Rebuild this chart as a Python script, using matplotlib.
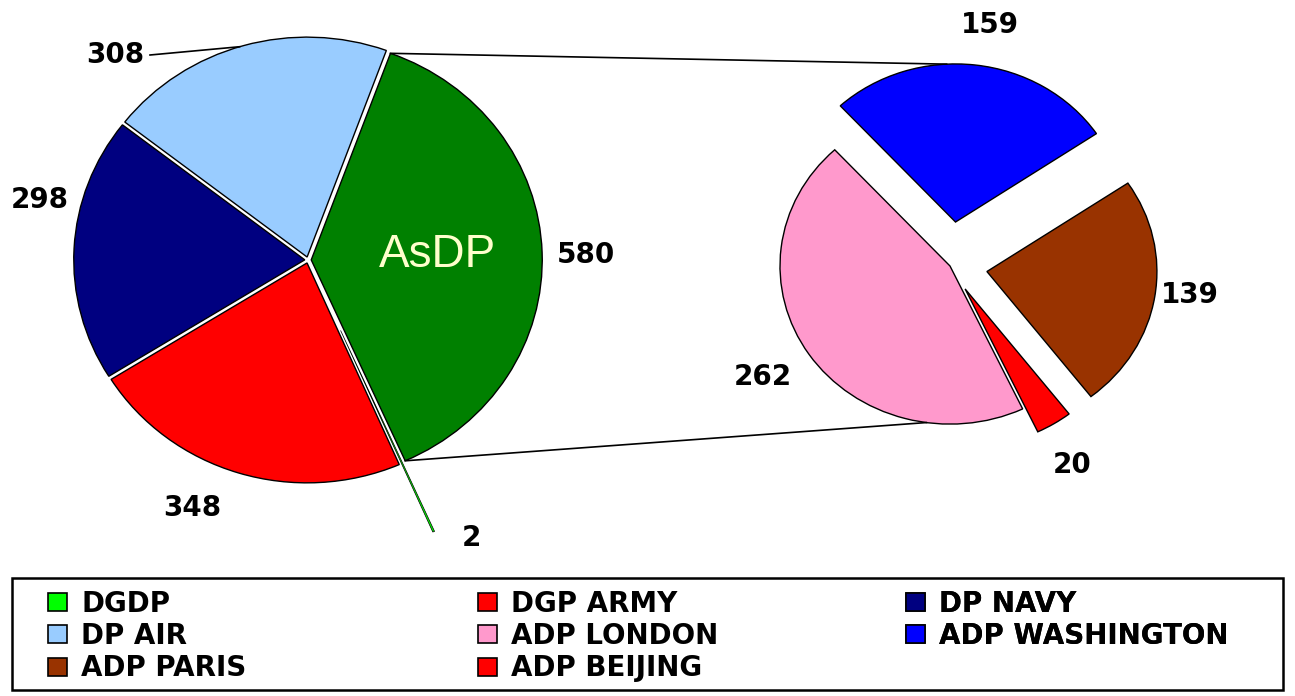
import numpy as np
import matplotlib.pyplot as plt
from matplotlib.patches import Patch, Rectangle
from matplotlib.transforms import Affine2D

# left pie (counter-clockwise from the AsDP slice)
left_names = ['AsDP', 'DP AIR', 'DP NAVY', 'DGP ARMY', 'DGDP']
left_values = [580, 308, 298, 348, 2]
left_colors = ['#008000', '#99ccff', '#000080', '#ff0000', '#00ff00']

# right pie = breakdown of AsDP
right_names = ['ADP WASHINGTON', 'ADP LONDON', 'ADP BEIJING', 'ADP PARIS']
right_values = [159, 262, 20, 139]
right_colors = ['#0000ff', '#ff99cc', '#ff0000', '#993300']

legend_cols = [['DGDP', 'DP AIR', 'ADP PARIS'],
               ['DGP ARMY', 'ADP LONDON', 'ADP BEIJING'],
               ['DP NAVY', 'ADP WASHINGTON']]

H = 696
fig = plt.figure(figsize=(12.95, 6.96), dpi=100)
ax = fig.add_axes([0, 0, 1, 1])

L_C, R_L, L_K = (308, H - 260), 231, 0.952   # centre, radius, vertical squash
R_C, R_R, R_K = (950, H - 266), 170, 0.93

lw, _ = ax.pie(left_values, colors=left_colors, startangle=-66, counterclock=True,
               center=L_C, radius=R_L,
               explode=[e * R_L for e in [0.014, 0.014, 0.014, 0.014, 0.35]],
               wedgeprops=dict(edgecolor='black', linewidth=1.0))
rw, _ = ax.pie(right_values, colors=right_colors, startangle=34, counterclock=True,
               center=R_C, radius=R_R,
               explode=[e * R_R for e in [0.28, 0.0, 0.17, 0.22]],
               wedgeprops=dict(edgecolor='black', linewidth=1.0))
lw[4].set_linewidth(0.5)

ax.set_aspect('auto')
ax.set_xlim(0, 1295)
ax.set_ylim(0, H)
ax.axis('off')


def squash(c, k):
    return Affine2D().translate(-c[0], -c[1]).scale(1, k).translate(c[0], c[1])


for wedges, c, k in [(lw, L_C, L_K), (rw, R_C, R_K)]:
    for w in wedges:
        w.set_transform(squash(c, k) + ax.transData)


def edge_point(w, ang, c, k):
    a = np.deg2rad(ang)
    x = w.center[0] + w.r * np.cos(a)
    y = w.center[1] + w.r * np.sin(a)
    return x, c[1] + (y - c[1]) * k


# connector lines between the AsDP slice and the breakdown pie
asdp = lw[0]
x1, y1 = edge_point(asdp, asdp.theta2, L_C, L_K)
x2, y2 = edge_point(rw[0], 93, R_C, R_K)
ax.plot([x1, x2], [y1, y2], color='black', lw=1.2)
x1, y1 = edge_point(asdp, asdp.theta1, L_C, L_K)
x2, y2 = edge_point(rw[1], 262, R_C, R_K)
ax.plot([x1, x2], [y1, y2], color='black', lw=1.2)

# leader line for 308
x1, y1 = edge_point(lw[1], 107, L_C, L_K)
ax.plot([150, x1], [H - 55, y1], color='black', lw=1.2)

ax.text(437, H - 255, 'AsDP', color='#ffffcc', fontsize=33, ha='center', va='center',
        family='Liberation Sans')

lab_font = dict(fontsize=20, fontweight='bold', family='DejaVu Sans', color='black',
                ha='center', va='center')
left_label_pos = [(586, 255), (115, 55), (40, 200), (192, 508), (471, 538)]
for v, (px, py) in zip(left_values, left_label_pos):
    ax.text(px, H - py, str(v), **lab_font)
right_label_pos = [(990, 25), (763, 377), (1072, 465), (1190, 295)]
for v, (px, py) in zip(right_values, right_label_pos):
    ax.text(px, H - py, str(v), **lab_font)

# legend frame + one legend per column
ax.add_patch(Rectangle((12, H - 690), 1271, 112, facecolor='white',
                       edgecolor='black', linewidth=1.8))
cmap = dict(zip(left_names + right_names, left_colors + right_colors))
for col_x, names in zip([48, 478, 906], legend_cols):
    handles = [Patch(facecolor=cmap[n], edgecolor='black', linewidth=1.2) for n in names]
    leg = ax.legend(handles, names, loc='upper left',
                    bbox_to_anchor=(col_x, H - 590), bbox_transform=ax.transData,
                    prop=dict(family='DejaVu Sans', weight='bold', size=20),
                    frameon=False, handlelength=0.7, handleheight=0.62,
                    handletextpad=0.5, labelspacing=0.15, borderpad=0, borderaxespad=0)
    ax.add_artist(leg)

fig.savefig('out.png', dpi=100)
